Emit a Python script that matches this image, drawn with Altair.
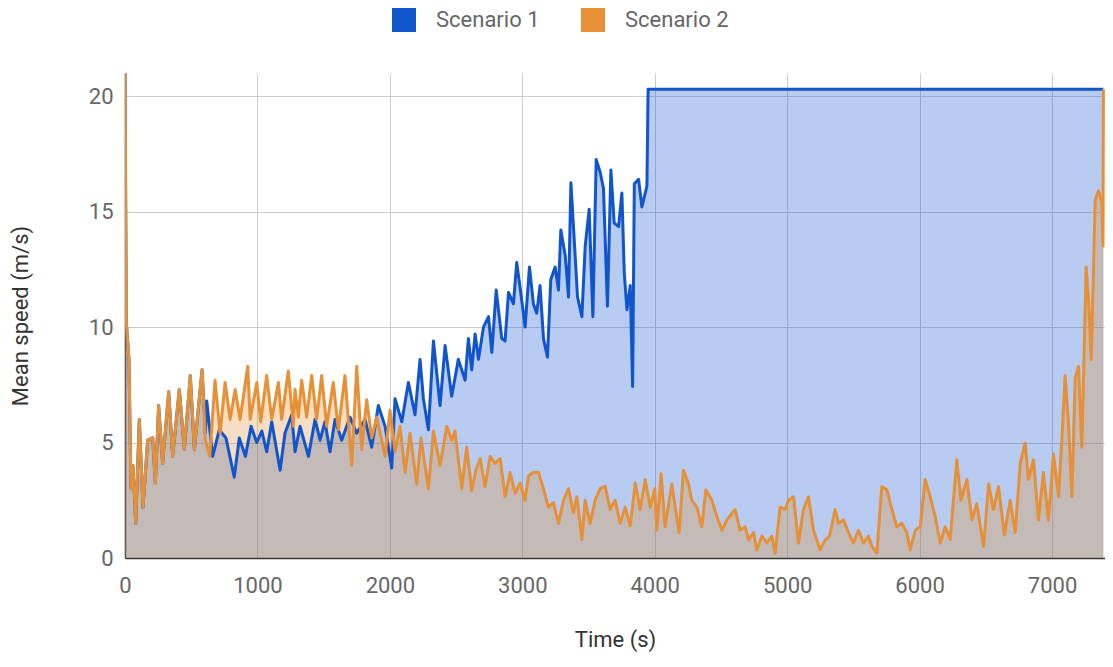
import altair as alt
import pandas as pd

series_names = ["Scenario 1", "Scenario 2"]
series_colors = ["#1155cc", "#e69138"]
x_ticks = [0, 1000, 2000, 3000, 4000, 5000, 6000, 7000]
y_ticks = [0, 5, 10, 15, 20]

# Scenario 1 (blue)
s1_time = [0, 10, 30, 45, 60, 81, 108, 136, 171, 209, 229, 254, 284, 330, 360,
           410, 448, 493, 524, 582, 607,
           617, 662, 712, 762, 825, 863, 909, 952, 995, 1033, 1070, 1108, 1171,
           1208, 1259, 1284, 1322, 1385, 1435, 1473, 1510, 1548, 1586, 1636,
           1699, 1749, 1812, 1863, 1913, 1964, 2014, 2039, 2090, 2140, 2190,
           2228, 2253, 2291, 2329, 2379, 2417, 2467, 2517, 2568, 2593, 2618,
           2644, 2669, 2707, 2745, 2770, 2803, 2845, 2870, 2896, 2933, 2958,
           2996, 3021, 3054, 3084, 3109, 3134, 3160, 3190, 3215, 3248, 3273,
           3291, 3324, 3349, 3367, 3392, 3417, 3450, 3475, 3505, 3533, 3558,
           3588, 3613, 3643, 3669, 3694, 3727, 3752, 3770, 3790, 3815, 3833,
           3846, 3878, 3903, 3941, 3950, 7388]
s1_speed = [21.0, 10.2, 8.6, 3.0, 4.0, 1.5, 6.0, 2.2, 5.1, 5.2, 3.25, 6.6, 4.1, 7.2, 4.4,
            7.3, 4.7, 7.9, 4.7, 8.15, 5.4,
            6.8, 4.4, 5.55, 5.2, 3.5, 5.2, 4.4, 5.7, 5.0, 5.5, 4.6, 5.9, 3.8,
            5.4, 6.2, 4.6, 5.7, 4.4, 6.0, 5.1, 5.9, 4.6, 6.0, 5.1,
            6.1, 5.4, 6.0, 4.8, 6.6, 5.7, 3.9, 6.9, 5.9, 7.6, 6.2,
            8.6, 6.9, 5.55, 9.4, 6.6, 9.2, 7.0, 8.6, 7.7, 9.5, 8.15,
            9.7, 8.6, 10.0, 10.45, 8.9, 11.6, 9.5, 9.4, 11.5, 11.0, 12.8,
            11.15, 10.0, 12.6, 11.0, 10.6, 11.8, 9.5, 8.7, 12.05, 12.6, 11.6,
            14.2, 13.1, 11.3, 16.25, 13.8, 11.3, 10.45, 13.5, 15.1, 10.45, 17.25,
            16.7, 16.0, 10.9, 16.8, 14.5, 14.35, 15.8, 12.35, 10.75, 11.8, 7.43,
            16.2, 16.4, 15.2, 16.1, 20.3, 20.3]

# Scenario 2 (orange)
s2_time = [0, 10, 30, 45, 60, 81, 108, 136, 171, 209, 229, 254, 284, 330, 360,
           410, 448, 493, 524, 582, 607, 640, 680, 718, 756, 794, 832, 869, 927,
           945, 995, 1025, 1070, 1108, 1158, 1183, 1233, 1271, 1284, 1309, 1334,
           1372, 1410, 1447, 1485, 1523, 1573, 1611, 1661, 1712, 1750, 1787,
           1825, 1863, 1901, 1964, 2001, 2039, 2077, 2115, 2152, 2203, 2235,
           2291, 2329, 2379, 2430, 2467, 2492, 2543, 2580, 2618, 2650, 2682,
           2719, 2757, 2795, 2833, 2870, 2908, 2946, 2983, 3021, 3046, 3084,
           3122, 3160, 3197, 3235, 3273, 3311, 3349, 3386, 3412, 3450, 3475,
           3512, 3550, 3588, 3626, 3663, 3701, 3739, 3777, 3815, 3853, 3890,
           3928, 3966, 4000, 4016, 4048, 4078, 4129, 4160, 4184, 4217, 4255,
           4280, 4318, 4356, 4386, 4431, 4469, 4507, 4545, 4607, 4645, 4683,
           4708, 4746, 4771, 4809, 4847, 4884, 4909, 4947, 4985, 5010, 5048,
           5086, 5123, 5161, 5199, 5249, 5287, 5320, 5362, 5388, 5425, 5463,
           5501, 5539, 5577, 5614, 5640, 5677, 5715, 5753, 5791, 5828, 5866,
           5904, 5929, 5967, 6005, 6042, 6080, 6118, 6156, 6193, 6231, 6281,
           6312, 6357, 6395, 6432, 6483, 6521, 6558, 6596, 6640, 6684, 6722,
           6760, 6797, 6822, 6860, 6898, 6935, 6973, 7011, 7049, 7074, 7099,
           7124, 7150, 7175, 7200, 7225, 7258, 7276, 7296, 7326, 7351, 7376,
           7385, 7388]
s2_speed = [21.0, 10.2, 8.6, 3.0, 4.0, 1.5, 6.0, 2.2, 5.1, 5.2, 3.25, 6.6, 4.1, 7.2, 4.4,
            7.3, 4.7, 7.9, 4.7, 8.15, 5.1, 4.4, 7.7, 5.4, 7.6, 6.0, 7.3, 6.0, 8.3,
            6.0, 7.6, 5.9, 7.9, 6.0, 7.6, 6.0, 8.1, 5.7, 7.3, 6.1, 7.7,
            6.1, 7.9, 6.0, 7.9, 5.7, 7.6, 5.55, 7.9, 4.0, 8.3, 4.7,
            6.85, 5.2, 6.1, 4.4, 6.4, 4.6, 5.7, 3.7, 5.4, 3.2, 5.2,
            3.0, 5.5, 4.0, 5.7, 5.1, 5.5, 3.0, 4.8, 2.9, 3.8, 4.3,
            3.1, 4.4, 4.1, 4.3, 2.65, 3.7, 2.8, 3.25, 2.5, 3.55, 3.7,
            3.7, 3.0, 2.2, 2.4, 1.5, 2.5, 3.0, 1.95, 2.65, 0.8, 2.5,
            1.5, 2.5, 3.0, 3.1, 2.1, 2.5, 1.5, 2.2, 1.4, 3.25, 2.1,
            3.4, 2.2, 3.0, 1.2, 3.65, 1.35, 3.2, 2.0, 1.1, 3.8, 3.2,
            2.5, 2.2, 1.35, 2.95, 2.5, 1.8, 1.2, 1.65, 2.1, 1.2, 1.35,
            0.78, 1.1, 0.35, 0.95, 0.65, 0.95, 0.2, 2.2, 2.1, 2.5, 2.65,
            0.65, 2.1, 2.65, 1.2, 0.35, 0.78, 0.95, 2.1, 1.5, 1.65, 1.1,
            0.65, 1.2, 0.65, 0.95, 0.5, 0.2, 3.1, 2.95, 2.1, 1.35, 1.5,
            1.1, 0.35, 1.2, 1.35, 3.4, 2.65, 1.8, 0.65, 1.35, 0.8, 4.25,
            2.5, 3.4, 1.65, 2.35, 0.5, 3.2, 2.1, 3.1, 1.0, 2.5, 1.1,
            4.1, 4.97, 3.4, 4.25, 1.65, 3.7, 1.65, 4.5, 2.65, 5.1, 7.9,
            5.85, 2.65, 7.8, 8.3, 4.8, 12.6, 11.2, 8.6, 15.5, 15.9, 15.4,
            13.5, 20.3]

df = pd.concat([
    pd.DataFrame({"time": s1_time, "speed": s1_speed, "series": series_names[0]}),
    pd.DataFrame({"time": s2_time, "speed": s2_speed, "series": series_names[1]}),
], ignore_index=True)

FONT = "Roboto"
color_scale = alt.Scale(domain=series_names, range=series_colors)

x_enc = alt.X(
    "time:Q",
    scale=alt.Scale(domain=[0, 7400], nice=False, zero=False),
    axis=alt.Axis(
        values=x_ticks, title="Time (s)", format="d",
        grid=True, gridColor="#cccccc", gridWidth=1,
        domain=True, domainColor="#333333", domainWidth=1.5,
        ticks=False, labelFlush=False,
        labelFont=FONT, labelFontSize=22, labelColor="#666666", labelPadding=17,
        titleFont=FONT, titleFontSize=22, titleColor="#333333",
        titleFontWeight="normal", titlePadding=33,
    ),
)
y_enc = alt.Y(
    "speed:Q",
    scale=alt.Scale(domain=[0, 21], nice=False),
    axis=alt.Axis(
        values=y_ticks, title="Mean speed (m/s)",
        grid=True, gridColor="#cccccc", gridWidth=1,
        domain=True, domainColor="#333333", domainWidth=1.5,
        ticks=False,
        labelFont=FONT, labelFontSize=22, labelColor="#666666", labelPadding=12,
        titleFont=FONT, titleFontSize=22, titleColor="#333333",
        titleFontWeight="normal", titlePadding=56,
    ),
)

legend = alt.Legend(
    title=None, orient="none", legendX=267, legendY=-65, direction="horizontal",
    symbolType="square", symbolSize=576, symbolOpacity=1, symbolStrokeWidth=0,
    labelFont=FONT, labelFontSize=22, labelColor="#666666", labelOffset=20,
    columnPadding=41, padding=0,
)

base = alt.Chart(df)


def area_layer(i):
    return base.transform_filter(alt.datum.series == series_names[i]).mark_area(
        opacity=0.3, clip=True, interpolate="linear"
    ).encode(
        x=x_enc, y=y_enc,
        color=alt.Color("series:N", scale=color_scale, legend=legend),
    )


def line_layer(i):
    return base.transform_filter(alt.datum.series == series_names[i]).mark_line(
        color=series_colors[i], strokeWidth=3, clip=True, interpolate="linear",
        strokeJoin="round"
    ).encode(x=x_enc, y=y_enc)


chart = alt.layer(
    area_layer(0), area_layer(1), line_layer(0), line_layer(1)
).properties(
    width=980, height=485,
    padding={"left": 117, "top": 65, "right": 0, "bottom": 95},
    autosize=alt.AutoSizeParams(type="none"),
).configure_view(strokeWidth=0)

chart.save("out.html", embed_options={"renderer": "svg", "actions": False})
